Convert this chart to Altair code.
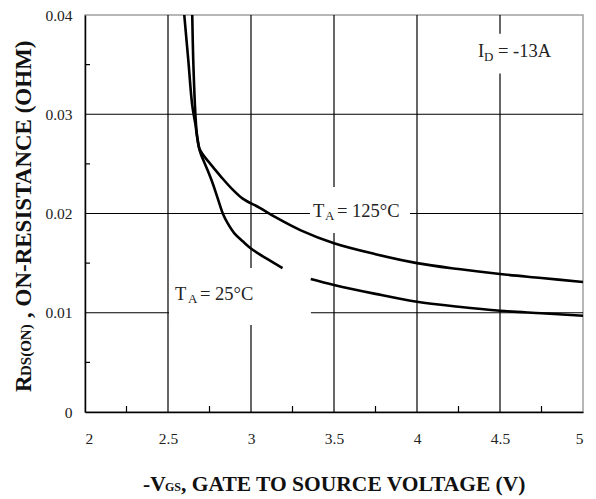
import altair as alt
import pandas as pd

# ---- data ----
v_125 = [2.646, 2.652, 2.665, 2.672, 2.68, 2.69, 2.71, 2.74, 2.77, 2.83, 2.89, 2.95, 3.05, 3.15, 3.3, 3.5, 3.75, 4.0, 4.25, 4.5, 4.75, 5.0]
r_125 = [0.0400, 0.0355, 0.0300, 0.0283, 0.0273, 0.0265, 0.02595, 0.0253, 0.0247, 0.0235, 0.0224, 0.0215, 0.0206, 0.0196, 0.0183, 0.0170, 0.0159, 0.0150, 0.0144, 0.0139, 0.0135, 0.0131]

v_25a = [2.598, 2.622, 2.646, 2.665, 2.672, 2.68, 2.69, 2.70, 2.72, 2.74, 2.77, 2.80, 2.83, 2.86, 2.90, 2.95, 2.99, 3.05, 3.1, 3.19]
r_25a = [0.0400, 0.0355, 0.0309, 0.0290, 0.0281, 0.0272, 0.0264, 0.0259, 0.0251, 0.0243, 0.0230, 0.0215, 0.0200, 0.0190, 0.0180, 0.0172, 0.0166, 0.0159, 0.0154, 0.0145]
v_25b = [3.36, 3.5, 3.75, 4.0, 4.25, 4.5, 4.75, 5.0]
r_25b = [0.0134, 0.0128, 0.0119, 0.0111, 0.0106, 0.0102, 0.00995, 0.0097]

x_ticks = [2, 2.5, 3, 3.5, 4, 4.5, 5]
y_ticks = [0, 0.01, 0.02, 0.03, 0.04]
x_grid = [2.5, 3, 3.5, 4, 4.5]
y_grid = [0.01, 0.02, 0.03]
x_minor = [2.25, 2.75, 3.25, 3.75, 4.25, 4.75]
y_minor = [0.005, 0.015, 0.025, 0.035]

# label background boxes (x0, x1, y0, y1)
box_x0 = [2.506, 3.355, 4.32]
box_x1 = [3.361, 3.958, 4.86]
box_y0 = [0.00877, 0.01804, 0.0341]
box_y1 = [0.01451, 0.02267, 0.0381]

# annotations: text pieces
ann_text = ["T", "A", "= 125°C", "T", "A", "= 25°C", "I", "D", "= -13A"]
ann_x = [3.373, 3.446, 3.518, 2.542, 2.620, 2.693, 4.367, 4.404, 4.488]
ann_y = [0.01965, 0.01935, 0.01965, 0.01128, 0.01098, 0.01128, 0.03577, 0.03537, 0.03577]
ann_size = [18.5, 13, 18.5, 18.5, 13, 18.5, 18.5, 13, 18.5]

SERIF = "Liberation Serif"
W, H = 498, 397

curves = pd.concat([
    pd.DataFrame({"v": v_125, "r": r_125, "seg": "125"}),
    pd.DataFrame({"v": v_25a, "r": r_25a, "seg": "25a"}),
    pd.DataFrame({"v": v_25b, "r": r_25b, "seg": "25b"}),
])

xs = alt.Scale(domain=[2, 5], nice=False, zero=False)
ys = alt.Scale(domain=[0, 0.04], nice=False)

base_axes = alt.Chart(pd.DataFrame({"v": [2, 5], "r": [0, 0.04]})).mark_point(opacity=0).encode(
    x=alt.X("v:Q", scale=xs, axis=alt.Axis(
        values=x_ticks, title=None, grid=False, ticks=False, domainColor="black", domainWidth=1.5,
        labelFont=SERIF, labelFontSize=15.5, labelColor="#222", labelPadding=19,
        labelExpr="format(datum.value, '~g')")),
    y=alt.Y("r:Q", scale=ys, axis=alt.Axis(
        values=y_ticks, title=None, grid=False, ticks=False, domainColor="black", domainWidth=1.5,
        labelFont=SERIF, labelFontSize=15.5, labelColor="#222", labelPadding=13,
        labelExpr="datum.value == 0 ? '0' : format(datum.value, '.2f')")),
)

xgrid = alt.Chart(pd.DataFrame({"v": x_grid})).mark_rule(color="black", strokeWidth=1.2).encode(
    x=alt.X("v:Q", scale=xs))
ygrid = alt.Chart(pd.DataFrame({"r": y_grid})).mark_rule(color="black", strokeWidth=1.2).encode(
    y=alt.Y("r:Q", scale=ys))
xminor = alt.Chart(pd.DataFrame({"v": x_minor})).mark_rule(color="black", strokeWidth=1.2).encode(
    x=alt.X("v:Q", scale=xs), y=alt.value(H), y2=alt.value(H - 6))
yminor = alt.Chart(pd.DataFrame({"r": y_minor})).mark_rule(color="black", strokeWidth=1.2).encode(
    y=alt.Y("r:Q", scale=ys), x=alt.value(0), x2=alt.value(5))

boxes = alt.Chart(pd.DataFrame({"x0": box_x0, "x1": box_x1, "y0": box_y0, "y1": box_y1})).mark_rect(
    color="white").encode(
    x=alt.X("x0:Q", scale=xs), x2="x1:Q", y=alt.Y("y0:Q", scale=ys), y2="y1:Q")

lines = alt.Chart(curves).mark_line(color="black", strokeWidth=2.6, interpolate="catmull-rom", clip=True).encode(
    x=alt.X("v:Q", scale=xs), y=alt.Y("r:Q", scale=ys), detail="seg:N")

ann = alt.Chart(pd.DataFrame({"t": ann_text, "v": ann_x, "r": ann_y, "s": ann_size})).mark_text(
    font=SERIF, align="left", baseline="alphabetic", color="#222").encode(
    x=alt.X("v:Q", scale=xs), y=alt.Y("r:Q", scale=ys), text="t:N",
    size=alt.Size("s:Q", scale=None, legend=None))

# axis titles composed from pieces (subscripts)
xt_text = ["-V", "GS", ", GATE TO SOURCE VOLTAGE (V)"]
xt_px = [58, 80, 96]
xt_size = [21.5, 12, 21.5]
xtitle = alt.Chart(pd.DataFrame({"t": xt_text, "px": xt_px, "s": xt_size})).mark_text(
    font=SERIF, fontWeight="bold", align="left", baseline="alphabetic", color="#111").encode(
    x=alt.X("px:Q", scale=None), y=alt.value(476), text="t:N",
    size=alt.Size("s:Q", scale=None, legend=None))

yt_text = ["R", "DS(ON)", ", ON-RESISTANCE (OHM)"]
yt_py = [377, 361, 303]
yt_size = [23, 15, 23]
ytitle = alt.Chart(pd.DataFrame({"t": yt_text, "py": yt_py, "s": yt_size})).mark_text(
    font=SERIF, fontWeight="bold", align="left", baseline="alphabetic", angle=270, color="#111").encode(
    y=alt.Y("py:Q", scale=None), x=alt.value(-54), text="t:N",
    size=alt.Size("s:Q", scale=None, legend=None))

chart = alt.layer(base_axes, xgrid, ygrid, xminor, yminor, boxes, lines, ann, xtitle, ytitle).properties(
    width=W, height=H,
    autosize=alt.AutoSizeParams(type="none"),
    padding={"left": 77, "top": 7, "right": 5, "bottom": 84},
    background="white",
).configure_view(stroke="#a0a0a0", strokeWidth=1.5)

chart.save("out.html", embed_options={"renderer": "svg", "actions": False})
